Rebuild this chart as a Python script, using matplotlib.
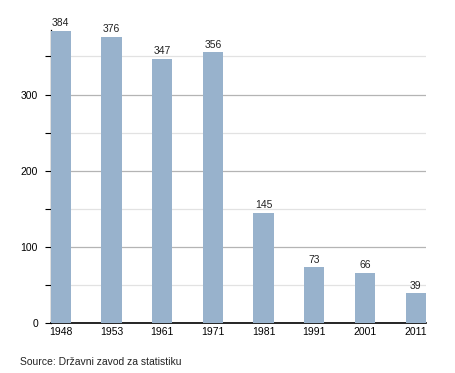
import matplotlib
matplotlib.use("Agg")
import matplotlib.pyplot as plt
import numpy as np

years = ["1948", "1953", "1961", "1971", "1981", "1991", "2001", "2011"]
values = [384, 376, 347, 356, 145, 73, 66, 39]
source = "Source: Državni zavod za statistiku"

plt.rcParams['font.family'] = ['Liberation Sans', 'DejaVu Sans']

fig = plt.figure(figsize=(4.55, 3.73), dpi=100)
ax = fig.add_axes([0.111, 0.134, 0.825, 0.786])

x = np.arange(len(years))
bars = ax.bar(x, values, width=0.4, color='#98b2cc', zorder=3)
for xi, v in zip(x, values):
    ax.text(xi, v + 3, str(v), ha='center', va='bottom', fontsize=7.5,
            color='#222222')

ax.set_xlim(-0.2, len(years) - 0.8)
ax.set_ylim(0, 385)
ax.set_xticks(x)
ax.set_xticklabels(years)
ax.set_yticks([0, 100, 200, 300])
ax.set_yticks([50, 150, 250, 350], minor=True)
ax.grid(axis='y', which='major', color='#b4b4b4', linewidth=0.9, zorder=0)
ax.grid(axis='y', which='minor', color='#e2e2e2', linewidth=0.9, zorder=0)
ax.tick_params(axis='x', length=0, labelsize=7.5, pad=3)
ax.tick_params(axis='y', which='major', length=4, width=0.8,
               labelsize=7.5, pad=5)
ax.tick_params(axis='y', which='minor', length=4, width=0.8)
for s in ('top', 'right'):
    ax.spines[s].set_visible(False)
ax.spines['left'].set_linewidth(0.9)
ax.spines['bottom'].set_linewidth(1.2)

fig.text(20 / 455, 1 - 362 / 373, source, fontsize=7.5, va='center',
         ha='left', color='#222222')

fig.savefig("out.png", dpi=100)
